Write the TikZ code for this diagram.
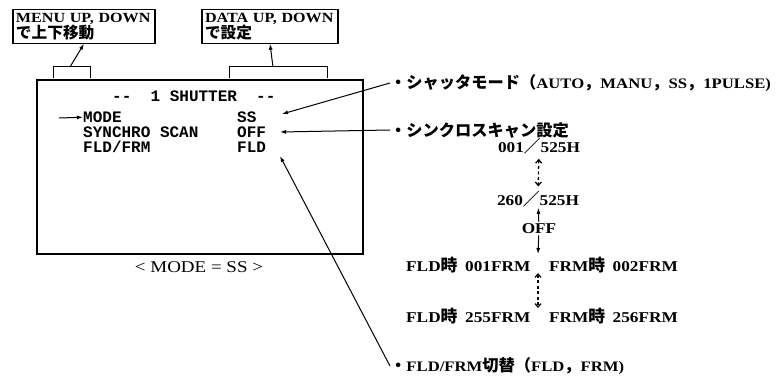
\documentclass[tikz,border=0pt]{standalone}
\usepackage{fontspec}
\usepackage{tikz}
\usetikzlibrary{arrows.meta, positioning}
\setmainfont{Liberation Serif}
\setmonofont{Liberation Mono}
\newfontfamily\jpfont[Scale=1.12]{Noto Sans CJK JP}
\newfontfamily\keyfont[FakeStretch=1.15]{Liberation Serif}
\newcommand{\jp}[1]{{\jpfont #1}}
\tikzstyle{keybox}     = [rectangle, draw=black, line width=1.1pt, inner sep=3pt, align=left,
                          font=\keyfont\bfseries\fontsize{14}{15.5}\selectfont]
\tikzstyle{screenbox}  = [rectangle, draw=black, line width=1.3pt]
\tikzstyle{screentext} = [inner sep=0pt, anchor=base west, font=\ttfamily\bfseries\fontsize{16}{16}\selectfont]
\tikzstyle{note}       = [inner sep=0pt, anchor=west, font=\keyfont\bfseries\fontsize{14.5}{16}\selectfont]
\tikzstyle{value}      = [inner sep=1pt, anchor=base, font=\keyfont\bfseries\fontsize{15}{16}\selectfont]
\tikzstyle{rowtext}    = [inner sep=0pt, anchor=base west, font=\keyfont\bfseries\fontsize{15}{16}\selectfont]
\tikzstyle{arrow}      = [-{Latex[length=6pt, width=4pt]}, line width=1pt]
\tikzstyle{dasharrow}  = [{Straight Barb[length=3.5pt, width=6pt, line width=1.2pt]}-{Straight Barb[length=3.5pt, width=6pt, line width=1.2pt]},
                          line width=1.3pt, dash pattern=on 3pt off 2.5pt, shorten <=3pt, shorten >=3pt]

\begin{document}
\begin{tikzpicture}[x=1pt, y=-1pt]
    \useasboundingbox (0,0) rectangle (776,385);

    % key guide boxes
    \node (menubox) [keybox, text width=136pt] at (84,26.5) {MENU UP, DOWN\\\jp{で上下移動}};
    \node (databox) [keybox, text width=130pt] at (270,26.5) {DATA UP, DOWN\\\jp{で設定}};

    % monitor screen
    \node (screen) [screenbox, minimum width=326pt, minimum height=174pt] at (200,167) {};
    \node (title) [screentext] at (112,101.5) {--~~1~SHUTTER~~--};
    \node (modelabel) [screentext] at (83,122.5) {MODE};
    \node (synclabel) [screentext] at (83,137.5) {SYNCHRO~SCAN};
    \node (fldlabel)  [screentext] at (83,152.5) {FLD/FRM};
    \node (modeval) [screentext] at (237,122.5) {SS};
    \node (syncval) [screentext] at (237,137.5) {OFF};
    \node (fldval)  [screentext] at (237,152.5) {FLD};
    \node (caption) [value, font=\keyfont\fontsize{16.5}{18}\selectfont] at (199,272) {<\ MODE = SS\ >};

    % brackets over the screen
    \coordinate (menubr) at (70,67);
    \coordinate (databr) at (273,67);
    \draw[line width=1pt] (53,78) -- (53,67) -- (90,67) -- (90,78);
    \draw[line width=1pt] (229,78) -- (229,67) -- (327,67) -- (327,78);
    \draw[arrow] (menubr) -- (menubox.south);
    \draw[arrow] (databr) -- (databox.south);

    % cursor
    \coordinate (cursor) at (59,118);
    \draw[arrow] (cursor) -- (modelabel.west);

    % notes
    \node (modenote) [note] at (390,83) {\jp{・シャッタモード（}AUTO\jp{，}MANU\jp{，}SS\jp{，}1PULSE)};
    \node (syncnote) [note] at (390,130) {\jp{・シンクロスキャン設定}};
    \node (fldnote)  [note] at (390,366) {\jp{・}FLD/FRM\jp{切替（}FLD\jp{，}FRM)};
    \coordinate (modetip) at (282,114);
    \coordinate (synctip) at (280,132);
    \coordinate (fldtip)  at (280,156);
    \draw[arrow] (modenote.west) -- (modetip);
    \draw[arrow] (syncnote.west) -- (synctip);
    \draw[arrow] (fldnote.west) -- (fldtip);

    % synchro scan values
    \node (syncfirst) [value] at (539,153) {001\jp{／}525H};
    \node (synclast)  [value] at (538,205) {260\jp{／}525H};
    \node (syncoff)   [value] at (539,233) {OFF};
    \draw[dasharrow] (syncfirst) -- (synclast);
    \draw[arrow] (syncoff) -- (synclast);

    % frame counts
    \node (fldfirst)  [rowtext] at (406,271) {FLD\jp{時}};
    \node (fldnum)    [rowtext] at (465,271) {001FRM};
    \node (frmfirst)  [rowtext] at (549,271) {FRM\jp{時}};
    \node (frmnum)    [rowtext, right=7pt of frmfirst.base east, anchor=base west] {002FRM};
    \node (fldlast)   [rowtext] at (406,322) {FLD\jp{時}};
    \node (fldmax)    [rowtext] at (465,322) {255FRM};
    \node (frmlast)   [rowtext] at (549,322) {FRM\jp{時}};
    \node (frmmax)    [rowtext, right=7pt of frmlast.base east, anchor=base west] {256FRM};
    \coordinate (rowtop) at (538,254);
    \coordinate (gapup)   at (538,270);
    \coordinate (gapdown) at (538,311);
    \draw[arrow, shorten <=1pt] (syncoff) -- (rowtop);
    \draw[dasharrow] (gapup) -- (gapdown);
\end{tikzpicture}
\end{document}
